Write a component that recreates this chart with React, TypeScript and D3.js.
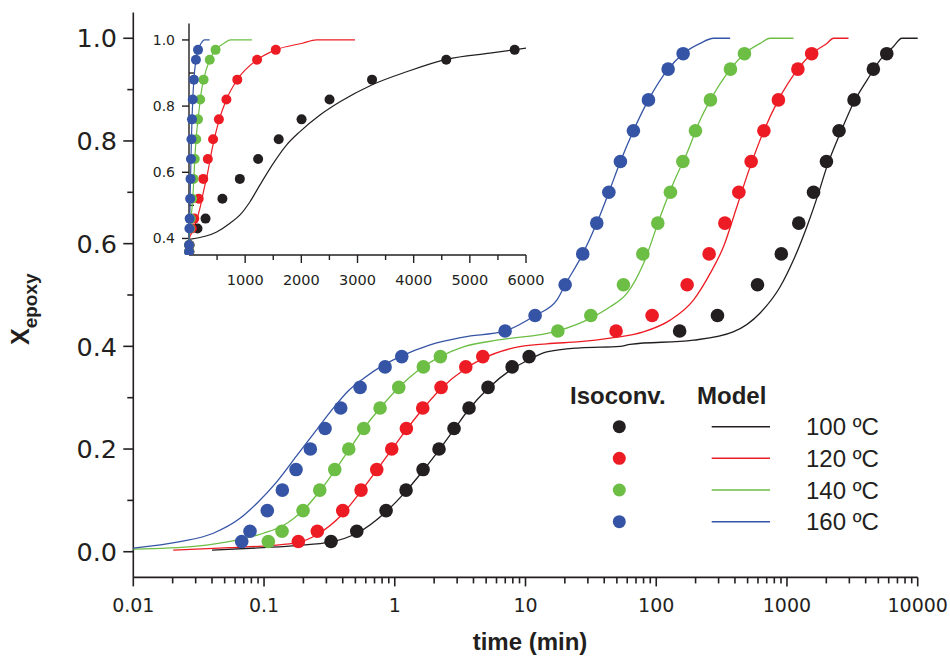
import React from 'react';
import * as d3 from 'd3';

// Isoconversional conversion levels (shared by all temperatures)
const X_LEVELS = [0.02, 0.04, 0.08, 0.12, 0.16, 0.2, 0.24, 0.28, 0.32, 0.36, 0.38, 0.43, 0.46, 0.52, 0.58, 0.64, 0.7, 0.76, 0.82, 0.88, 0.94, 0.97];

// Isoconversional times (min) at each level
const ISO_100 = [0.3255, 0.512, 0.858, 1.22, 1.646, 2.18, 2.84, 3.7, 5.17, 7.9, 10.66, 151, 294, 595, 905, 1231, 1597, 2004, 2502, 3259, 4580, 5798];
const ISO_120 = [0.183, 0.2557, 0.4, 0.552, 0.728, 0.948, 1.227, 1.637, 2.261, 3.493, 4.714, 49.3, 93.0, 172.4, 253.9, 334.9, 428.5, 532.3, 665.9, 860, 1212, 1545];
const ISO_140 = [0.1079, 0.1373, 0.1988, 0.2668, 0.3475, 0.4446, 0.579, 0.772, 1.073, 1.655, 2.234, 17.67, 31.6, 56.1, 79.0, 102.8, 128.4, 159.8, 199.5, 259.8, 369.6, 473];
const ISO_160 = [0.0675, 0.0781, 0.1059, 0.138, 0.1757, 0.2261, 0.293, 0.386, 0.543, 0.843, 1.131, 6.98, 11.84, 20.1, 27.4, 35.1, 43.4, 53.2, 66.9, 87.2, 123.3, 160.6];

// Model curves: [time (min), X]
const MODEL_100: [number, number][] = [
  [0.04, 0.003], [0.0988, 0.008], [0.178, 0.012], [0.3255, 0.019], [0.512, 0.036], [0.858, 0.078], [1.22, 0.118],
  [1.646, 0.158], [2.18, 0.198], [2.84, 0.238], [3.7, 0.278], [5.17, 0.318], [7.9, 0.356], [10.66, 0.374],
  [14.55, 0.389], [26.2, 0.397], [52.9, 0.4], [63.1, 0.404], [192.6, 0.412], [387.6, 0.428], [623.7, 0.465],
  [887, 0.516], [1121, 0.568], [1420, 0.633], [1742, 0.698], [2020, 0.75], [2553, 0.815], [3228, 0.874],
  [4087, 0.918], [5166, 0.958], [6528, 0.984], [7570, 1.0], [10000, 1.0],
];
const MODEL_120: [number, number][] = [
  [0.0202, 0.003], [0.0549, 0.008], [0.111, 0.012], [0.183, 0.018], [0.253, 0.033], [0.4, 0.074], [0.552, 0.118],
  [0.728, 0.159], [0.948, 0.199], [1.227, 0.238], [1.637, 0.278], [2.261, 0.318], [3.493, 0.357], [4.714, 0.376],
  [8.08, 0.397], [14.55, 0.405], [26.2, 0.409], [44.4, 0.416], [79.8, 0.428], [127.8, 0.451], [192.6, 0.49],
  [258.5, 0.542], [326.8, 0.594], [413.8, 0.672], [523, 0.75], [665.9, 0.82], [860, 0.88], [1212, 0.94],
  [1545, 0.97], [2020, 0.99], [2269, 1.0], [2955, 1.0],
];
const MODEL_140: [number, number][] = [
  [0.01, 0.005], [0.0306, 0.011], [0.0655, 0.024], [0.0988, 0.036], [0.1405, 0.051], [0.2122, 0.088], [0.2842, 0.127],
  [0.4292, 0.192], [0.579, 0.24], [0.772, 0.28], [1.073, 0.32], [1.473, 0.351], [2.234, 0.38], [3.349, 0.399],
  [6.03, 0.412], [17.67, 0.43], [31.6, 0.455], [44.4, 0.477], [59.6, 0.503], [79.8, 0.561], [107.1, 0.652],
  [135.3, 0.718], [171.5, 0.776], [216.7, 0.841], [259.8, 0.88], [369.6, 0.94], [473, 0.97], [623.7, 0.99],
  [743.8, 1.0], [1121, 1.0],
];
const MODEL_160: [number, number][] = [
  [0.01, 0.007], [0.02277, 0.0195], [0.04093, 0.036], [0.0655, 0.065], [0.0879, 0.094], [0.1251, 0.136], [0.178, 0.187],
  [0.253, 0.238], [0.34, 0.28], [0.44, 0.313], [0.58, 0.338], [0.8, 0.362], [1.1, 0.38], [1.863, 0.403], [3.349, 0.418],
  [6.98, 0.43], [11.84, 0.46], [17.36, 0.49], [20.1, 0.52], [27.4, 0.58], [35.1, 0.64], [43.4, 0.7], [53.2, 0.76],
  [66.9, 0.82], [87.2, 0.88], [123.3, 0.94], [160.6, 0.97], [216.7, 0.99], [274, 1.0], [367.6, 1.0],
];

// Inset (linear time axis) model curve for 100 ºC
const INSET_MODEL_100: [number, number][] = [
  [0, 0.3975], [493, 0.4196], [730, 0.446], [908, 0.471], [1086, 0.511], [1264, 0.562], [1501, 0.627],
  [1739, 0.683], [1976, 0.723], [2332, 0.773], [2688, 0.813], [3252, 0.864], [3876, 0.904], [4599, 0.942],
  [5359, 0.96], [6000, 0.975],
];

const SERIES_LABELS = ['100 ºC', '120 ºC', '140 ºC', '160 ºC'];
const COLORS = ['#231f20', '#ed1c24', '#6cbe45', '#3554a5'];

const X_TICKS = [0.01, 0.1, 1, 10, 100, 1000, 10000];
const X_TICK_LABELS = ['0.01', '0.1', '1', '10', '100', '1000', '10000'];
const Y_TICKS = [0, 0.2, 0.4, 0.6, 0.8, 1.0];
const Y_MINOR = [0.1, 0.3, 0.5, 0.7, 0.9];
const INSET_X_TICKS = [1000, 2000, 3000, 4000, 5000, 6000];
const INSET_X_MINOR = [500, 1500, 2500, 3500, 4500, 5500];
const INSET_Y_TICKS = [0.4, 0.6, 0.8, 1.0];
const INSET_Y_MINOR = [0.5, 0.7, 0.9];

const AX = '#231f20';
const TICK_FONT = '"DejaVu Sans", Verdana, sans-serif';
const ARIAL = '"Liberation Sans", Arial, Helvetica, sans-serif';

export default function App() {
  const x = d3.scaleLog().domain([0.01, 10000]).range([133.3, 917.7]);
  const y = d3.scaleLinear().domain([-0.05, 1.05]).range([577.4, 12.6]);
  const ix = d3.scaleLinear().domain([0, 6000]).range([189, 526]);
  const iy = d3.scaleLinear().domain([0.35, 1.05]).range([255, 23.4]);

  const isos = [ISO_100, ISO_120, ISO_140, ISO_160];
  const models = [MODEL_100, MODEL_120, MODEL_140, MODEL_160];
  const insetModels = [INSET_MODEL_100, MODEL_120, MODEL_140, MODEL_160];

  const line = d3.line<[number, number]>().x(d => x(d[0])).y(d => y(d[1])).curve(d3.curveMonotoneX);
  const iline = d3.line<[number, number]>().x(d => ix(d[0])).y(d => iy(d[1])).curve(d3.curveMonotoneX);

  const xMinor: number[] = [];
  for (let e = -2; e < 4; e++) for (let k = 2; k <= 9; k++) xMinor.push(k * Math.pow(10, e));

  const [y0, y1] = y.range();
  const [ix0, ix1] = ix.range();
  const [iy0, iy1] = iy.range();

  const legendYs = [426.7, 458.3, 490, 521.7];

  return (
    <svg width={950} height={657} style={{ position: 'absolute', left: 0, top: 0, background: '#fff' }}>
      <defs>
        <clipPath id="insetClip">
          <rect x={150} y={10} width={400} height={iy0 - 10} />
        </clipPath>
      </defs>

      {/* Main axes */}
      <g stroke={AX} strokeWidth={1.6} fill="none">
        <line x1={x(0.01)} x2={x(0.01)} y1={y1} y2={y0} />
        <line x1={x(0.01)} x2={x(10000)} y1={y0} y2={y0} />
        {X_TICKS.map(t => <line key={'xt' + t} x1={x(t)} x2={x(t)} y1={y0} y2={y0 + 9} />)}
        {xMinor.map(t => <line key={'xm' + t} x1={x(t)} x2={x(t)} y1={y0} y2={y0 + 6} />)}
        {Y_TICKS.map(v => <line key={'yt' + v} x1={x(0.01) - 10} x2={x(0.01)} y1={y(v)} y2={y(v)} />)}
        {Y_MINOR.map(v => <line key={'ym' + v} x1={x(0.01) - 6} x2={x(0.01)} y1={y(v)} y2={y(v)} />)}
      </g>
      {X_TICKS.map((t, i) => (
        <text key={'xl' + t} x={x(t)} y={612} textAnchor="middle" fontFamily={TICK_FONT} fontSize={19} fill={AX}>{X_TICK_LABELS[i]}</text>
      ))}
      {Y_TICKS.map(v => (
        <text key={'yl' + v} x={117} y={y(v)} dy="0.36em" textAnchor="end" fontFamily={TICK_FONT} fontSize={25.5} fill={AX}>{v.toFixed(1)}</text>
      ))}
      <text x={530} y={650} textAnchor="middle" fontFamily={ARIAL} fontWeight="bold" fontSize={24} fill={AX}>time (min)</text>
      <text transform="translate(29,345) rotate(-90)" fontFamily={ARIAL} fontWeight="bold" fill={AX}>
        <tspan fontSize={25}>X</tspan>
        <tspan fontSize={19} dy={8}>epoxy</tspan>
      </text>

      {/* Main model curves */}
      {models.map((m, i) => (
        <path key={'ml' + i} d={line(m) || ''} fill="none" stroke={COLORS[i]} strokeWidth={1.3} />
      ))}
      {/* Main isoconversional points */}
      {isos.map((ts, i) => ts.map((t, j) => (
        <circle key={'p' + i + '-' + j} cx={x(t)} cy={y(X_LEVELS[j])} r={6.8} fill={COLORS[i]} />
      )))}

      {/* Legend */}
      <text x={570} y={404} fontFamily={ARIAL} fontWeight="bold" fontSize={24} fill={AX}>Isoconv.</text>
      <text x={697} y={404} fontFamily={ARIAL} fontWeight="bold" fontSize={24} fill={AX}>Model</text>
      {SERIES_LABELS.map((lab, i) => (
        <g key={'lg' + i}>
          <circle cx={619.3} cy={legendYs[i]} r={6.5} fill={COLORS[i]} />
          <line x1={711.7} x2={770} y1={legendYs[i]} y2={legendYs[i]} stroke={COLORS[i]} strokeWidth={1.4} />
          <text x={806} y={legendYs[i] + 8.5} fontFamily={ARIAL} fontSize={24} fill={AX}>{lab}</text>
        </g>
      ))}

      {/* Inset */}
      <g stroke={AX} strokeWidth={1.4} fill="none">
        <line x1={ix0} x2={ix0} y1={iy1} y2={iy0} />
        <line x1={ix0} x2={ix1} y1={iy0} y2={iy0} />
        {INSET_X_TICKS.map(t => <line key={'ixt' + t} x1={ix(t)} x2={ix(t)} y1={iy0} y2={iy0 + 8} />)}
        {INSET_X_MINOR.map(t => <line key={'ixm' + t} x1={ix(t)} x2={ix(t)} y1={iy0} y2={iy0 + 5} />)}
        {INSET_Y_TICKS.map(v => <line key={'iyt' + v} x1={ix0 - 7} x2={ix0} y1={iy(v)} y2={iy(v)} />)}
        {INSET_Y_MINOR.map(v => <line key={'iym' + v} x1={ix0} x2={ix0 + 5} y1={iy(v)} y2={iy(v)} />)}
      </g>
      {INSET_X_TICKS.map(t => (
        <text key={'ixl' + t} x={ix(t)} y={285} textAnchor="middle" fontFamily={TICK_FONT} fontSize={14.5} fill={AX}>{t}</text>
      ))}
      {INSET_Y_TICKS.map(v => (
        <text key={'iyl' + v} x={175} y={iy(v)} dy="0.36em" textAnchor="end" fontFamily={TICK_FONT} fontSize={14} fill={AX}>{v.toFixed(1)}</text>
      ))}
      <g clipPath="url(#insetClip)">
        {insetModels.map((m, i) => (
          <path key={'il' + i} d={iline(m) || ''} fill="none" stroke={COLORS[i]} strokeWidth={1.2} />
        ))}
        {isos.map((ts, i) => ts.map((t, j) => (
          <circle key={'ip' + i + '-' + j} cx={ix(t)} cy={iy(X_LEVELS[j])} r={5} fill={COLORS[i]} />
        )))}
      </g>
    </svg>
  );
}
